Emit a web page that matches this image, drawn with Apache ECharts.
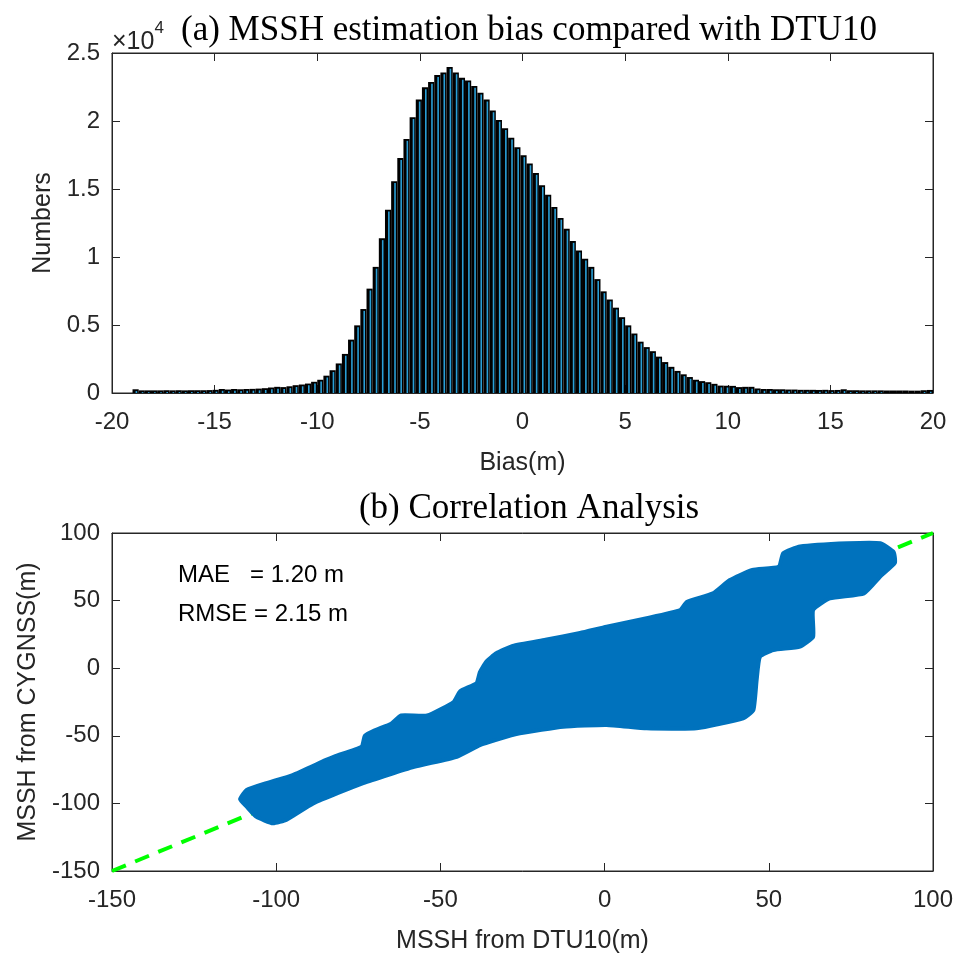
<!DOCTYPE html>
<html>
<head>
<meta charset="utf-8">
<script src="https://cdn.jsdelivr.net/npm/echarts@6/dist/echarts.min.js"></script>
<style>
  html, body { margin: 0; padding: 0; background: #fff; }
  #main { width: 957px; height: 958px; }
</style>
</head>
<body>
<div id="main"></div>
<script>
// histogram of bias (m), bin edges start at binStart, width binWidth
var binStart = -19.0;
var binWidth = 0.3;
var binCounts = [
    200, 120, 120, 120, 120, 130, 120, 130, 120, 130,
    130, 130, 140, 160, 220, 180, 220, 200, 220, 230,
    250, 280, 330, 380, 360, 420, 500, 550, 620, 750,
    900, 1200, 1600, 2100, 2800, 3850, 4900, 6100, 7600, 9200,
    11300, 13400, 15500, 17200, 18600, 20200, 21500, 22400, 22800, 23300,
    23500, 23900, 23500, 23100, 22900, 22500, 22000, 21500, 20700, 20000,
    19400, 18700, 18000, 17400, 16800, 16100, 15200, 14500, 13600, 12800,
    12000, 11100, 10400, 9800, 9200, 8300, 7400, 6800, 6200, 5500,
    4900, 4300, 3700, 3300, 3000, 2600, 2200, 1850, 1550, 1300,
    1100, 900, 800, 720, 600, 470, 460, 450, 360, 380,
    380, 260, 220, 220, 200, 200, 180, 180, 160, 160,
    160, 150, 160, 140, 150, 200, 130, 130, 120, 120,
    120, 120, 110, 110, 110, 110, 100, 100, 130, 150
];

// outline of the scatter cloud (DTU10 vs CYGNSS), upper edge then lower edge
var cloudX = [
    -111, -109, -103, -95, -85, -82, -74, -73, -70, -65, -62, -54, -46, -44, -39, -38, -36, -33, -28,
    -18, -7.5, 0.6, 12.8, 23, 25, 33, 38, 45, 53, 54.4, 59.5, 74, 84, 88, 88.4,
    84, 79, 68.6, 63.5, 63.5, 59.5, 51.4, 47.3, 46.3, 45.3, 42.2, 28, 12.8, 0.6, -12.6,
    -25.8, -33, -38, -45, -58, -73.5, -88.7, -96.8, -101, -106, -109
];
var cloudY = [
    -97, -90, -85, -79, -68, -65, -58, -50, -46, -41, -35, -35, -25, -17, -11, -3, 5, 11, 16.5,
    21, 26, 30.7, 37, 43, 49, 55.4, 65, 72.6, 75, 85, 90, 92.4, 92.4, 86, 78,
    68, 55.4, 51.7, 43, 23.3, 16, 13.5, 8.5, -8.7, -31, -37, -44.5, -44.5, -42, -43.3,
    -48.2, -53, -57, -65.5, -73, -85, -100, -112, -114.7, -110, -102.4
];

// 1:1 reference line
var refX = [-150, 100];
var refY = [-150, 100];

var textColor = '#262626';
var sans = '"Liberation Sans", Arial, sans-serif';
var serif = '"Liberation Serif", "Times New Roman", serif';

function initChart() {
    var myChart = echarts.init(document.getElementById('main'));

    var histData = binCounts.map(function (c, i) {
        return [binStart + i * binWidth, binStart + (i + 1) * binWidth, c];
    });

    function renderBin(params, api) {
        var p0 = api.coord([api.value(0), api.value(2)]);
        var p1 = api.coord([api.value(1), 0]);
        var w = p1[0] - p0[0];
        var h = p1[1] - p0[1];
        var children = [{
            type: 'rect',
            shape: { x: p0[0], y: p0[1] - 1, width: w, height: h + 1 },
            style: { fill: '#000' }
        }];
        if (h > 1.5) {
            children.push({
                type: 'rect',
                shape: { x: p0[0] + w * 0.5, y: p0[1] + 0.8, width: 1.6, height: h - 0.8 },
                style: { fill: '#2a9fd6' }
            });
        }
        return { type: 'group', children: children };
    }

    function renderCloud(params, api) {
        var pts = cloudX.map(function (x, i) {
            return api.coord([x, cloudY[i]]);
        });
        return {
            type: 'polygon',
            shape: { points: pts, smooth: 0.15 },
            style: { fill: '#0072bd', stroke: '#0072bd', lineWidth: 4, lineJoin: 'round' }
        };
    }

    function axisX(grid, pos, min, max, interval, name, showLabel) {
        return {
            type: 'value', gridIndex: grid, position: pos,
            min: min, max: max, interval: interval,
            name: name, nameLocation: 'middle', nameGap: 58,
            nameTextStyle: { color: textColor, fontSize: 25, fontFamily: sans },
            axisLine: { show: true, onZero: false, lineStyle: { color: textColor, width: 1 } },
            axisTick: { show: true, inside: true, length: 8, lineStyle: { color: textColor } },
            axisLabel: { show: showLabel, color: textColor, fontSize: 24, fontFamily: sans, margin: 17 },
            splitLine: { show: false }
        };
    }

    function axisY(grid, pos, min, max, interval, name, showLabel, gap, fmt) {
        return {
            type: 'value', gridIndex: grid, position: pos,
            min: min, max: max, interval: interval,
            name: name, nameLocation: 'middle', nameGap: gap,
            nameTextStyle: { color: textColor, fontSize: 25, fontFamily: sans },
            axisLine: { show: true, onZero: false, lineStyle: { color: textColor, width: 1 } },
            axisTick: { show: true, inside: true, length: 8, lineStyle: { color: textColor } },
            axisLabel: { show: showLabel, color: textColor, fontSize: 24, fontFamily: sans, margin: 12, formatter: fmt },
            splitLine: { show: false }
        };
    }

    var option = {
        backgroundColor: '#fff',
        animation: false,
        title: [
            {
                text: '(a) MSSH estimation bias compared with DTU10',
                left: 524, top: 8, textAlign: 'center',
                textStyle: { fontFamily: serif, fontSize: 35, fontWeight: 'normal', color: '#000' }
            },
            {
                text: '(b) Correlation Analysis',
                left: 524, top: 486, textAlign: 'center',
                textStyle: { fontFamily: serif, fontSize: 35, fontWeight: 'normal', color: '#000' }
            }
        ],
        grid: [
            { left: 112, top: 53, width: 821, height: 340, show: true, borderColor: textColor, borderWidth: 1 },
            { left: 112, top: 533, width: 821, height: 338, show: true, borderColor: textColor, borderWidth: 1 }
        ],
        xAxis: [
            axisX(0, 'bottom', -20, 20, 5, 'Bias(m)', true),
            axisX(0, 'top', -20, 20, 5, '', false),
            axisX(1, 'bottom', -150, 100, 50, 'MSSH from DTU10(m)', true),
            axisX(1, 'top', -150, 100, 50, '', false)
        ],
        yAxis: [
            axisY(0, 'left', 0, 25000, 5000, 'Numbers', true, 54, function (v) { return String(v / 10000); }),
            axisY(0, 'right', 0, 25000, 5000, '', false, 0),
            axisY(1, 'left', -150, 100, 50, 'MSSH from CYGNSS(m)', true, 70),
            axisY(1, 'right', -150, 100, 50, '', false, 0)
        ],
        graphic: [
            {
                type: 'text', left: 112, top: 20,
                style: {
                    text: '{a|×10}{b|4}',
                    rich: {
                        a: { fontSize: 25, fontFamily: sans, fill: textColor, padding: [10, 0, 0, 0] },
                        b: { fontSize: 17, fontFamily: sans, fill: textColor, verticalAlign: 'top' }
                    }
                }
            },
            {
                type: 'text', left: 178, top: 563,
                style: { text: 'MAE   = 1.20 m', fontSize: 24, fontFamily: sans, fill: '#000' }
            },
            {
                type: 'text', left: 178, top: 602,
                style: { text: 'RMSE = 2.15 m', fontSize: 24, fontFamily: sans, fill: '#000' }
            }
        ],
        series: [
            {
                type: 'custom',
                xAxisIndex: 0, yAxisIndex: 0,
                renderItem: renderBin,
                clip: true,
                data: histData
            },
            {
                type: 'line',
                xAxisIndex: 2, yAxisIndex: 2,
                data: refX.map(function (x, i) { return [x, refY[i]]; }),
                symbol: 'none',
                z: 1,
                lineStyle: { color: '#00ff00', width: 4, type: [15, 10] }
            },
            {
                type: 'custom',
                xAxisIndex: 2, yAxisIndex: 2,
                renderItem: renderCloud,
                z: 3,
                data: [[0, 0]]
            }
        ]
    };

    myChart.setOption(option);
}

initChart();
</script>
</body>
</html>
